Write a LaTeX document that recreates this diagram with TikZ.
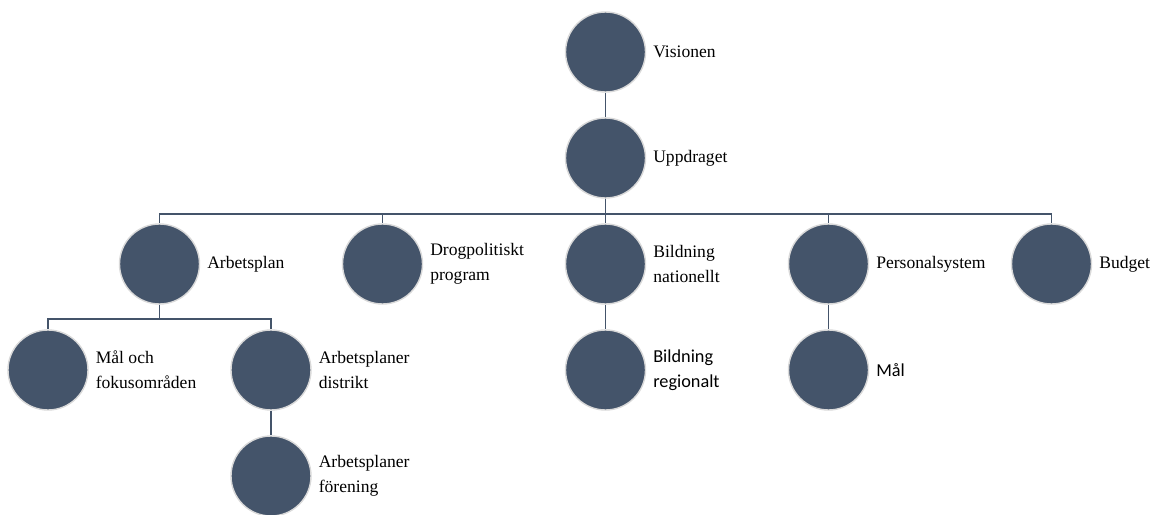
\documentclass[tikz,border=0pt]{standalone}
\usepackage{fontspec}
\setmainfont{Liberation Serif}
\newfontfamily\calfont{Carlito}
\usetikzlibrary{positioning}
\definecolor{slate}{HTML}{44546A}
\definecolor{rim}{HTML}{D9D9D9}
\tikzset{
	orgdot/.style={circle, fill=slate, draw=rim, line width=1pt, minimum size=2cm, inner sep=0pt},
	orgtxt/.style={inner sep=0pt, align=left, font=\fontsize{12.5}{17.5}\selectfont},
	orgsans/.style={orgtxt, font=\calfont\fontsize{13}{17.5}\selectfont},
	link/.style={draw=slate, line width=1.4pt}
}
\begin{document}
\begin{tikzpicture}[x=2.7875cm, y=-2.65cm]
	\useasboundingbox (-1.2cm,1.3cm) rectangle (27.75cm,-11.575cm);
	% circles
	\node[orgdot] (vis) at (5, 0) {};
	\node[orgdot] (upp) at (5, 1) {};
	\node[orgdot] (arb) at (1, 2) {};
	\node[orgdot] (drog) at (3, 2) {};
	\node[orgdot] (bnat) at (5, 2) {};
	\node[orgdot] (pers) at (7, 2) {};
	\node[orgdot] (bud) at (9, 2) {};
	\node[orgdot] (mal) at (0, 3) {};
	\node[orgdot] (dist) at (2, 3) {};
	\node[orgdot] (breg) at (5, 3) {};
	\node[orgdot] (pmal) at (7, 3) {};
	\node[orgdot] (for) at (2, 4) {};
	% labels
	\node[orgtxt, right=0.17cm of vis, anchor=west] (visT) {Visionen};
	\node[orgtxt, right=0.17cm of upp, anchor=west] (uppT) {Uppdraget};
	\node[orgtxt, right=0.17cm of arb, anchor=west] (arbT) {Arbetsplan};
	\node[orgtxt, right=0.17cm of drog, anchor=west] (drogT) {Drogpolitiskt\\program};
	\node[orgtxt, right=0.17cm of bnat, anchor=west] (bnatT) {Bildning\\nationellt};
	\node[orgtxt, right=0.17cm of pers, anchor=west] (persT) {Personalsystem};
	\node[orgtxt, right=0.17cm of bud, anchor=west] (budT) {Budget};
	\node[orgtxt, right=0.17cm of mal, anchor=west] (malT) {Mål och\\fokusområden};
	\node[orgtxt, right=0.17cm of dist, anchor=west] (distT) {Arbetsplaner\\distrikt};
	\node[orgsans, right=0.17cm of breg, anchor=west] (bregT) {Bildning\\regionalt};
	\node[orgsans, right=0.17cm of pmal, anchor=west] (pmalT) {Mål};
	\node[orgtxt, right=0.17cm of for, anchor=west] (forT) {Arbetsplaner\\förening};
	% connectors
	\draw[link] (vis) -- (upp);
	\foreach \c in {arb, drog, bnat, pers, bud}
		\draw[link] (upp.south) -- ++(0,-0.375cm) -| (\c.north);
	\foreach \c in {mal, dist}
		\draw[link] (arb.south) -- ++(0,-0.35cm) -| (\c.north);
	\draw[link] (bnat) -- (breg);
	\draw[link] (pers) -- (pmal);
	\draw[link] (dist) -- (for);
\end{tikzpicture}
\end{document}
